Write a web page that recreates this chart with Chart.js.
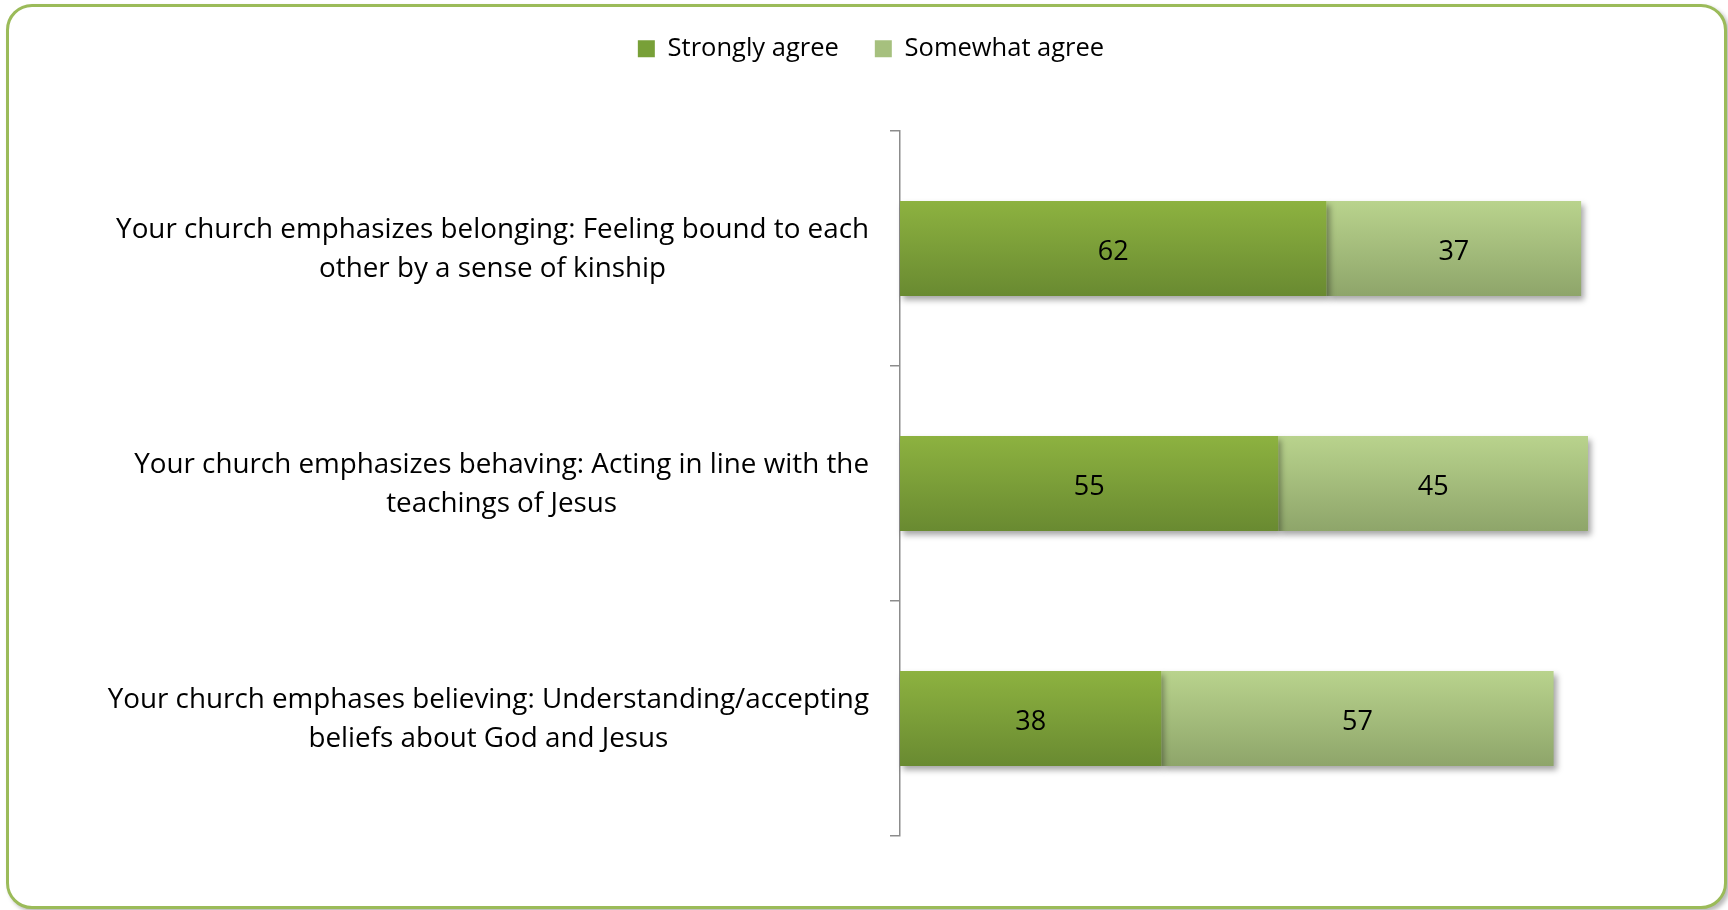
<!DOCTYPE html>
<html>
<head>
<meta charset="utf-8">
<script src="https://cdn.jsdelivr.net/npm/chart.js@4.4.1/dist/chart.umd.min.js"></script>
<style>
  html, body { margin: 0; padding: 0; background: #ffffff; width: 1728px; height: 910px; overflow: hidden; }
  #frame { position: absolute; left: 6px; top: 4px; width: 1721px; height: 905px; box-sizing: border-box;
           border: 3px solid #9bbb59; border-radius: 26px; box-shadow: 3px 3px 4px rgba(0,0,0,0.28); background: #fff; }
  #c { position: absolute; left: 0; top: 0; }
</style>
</head>
<body>
<div id="frame"></div>
<canvas id="c" width="1728" height="910"></canvas>
<script>
// ---- data ----
const categories = [
  ["Your church emphasizes belonging: Feeling bound to each", "other by a sense of kinship"],
  ["Your church emphasizes behaving: Acting in line with the", "teachings of Jesus"],
  ["Your church emphases believing: Understanding/accepting", "beliefs about God and Jesus"]
];
const seriesNames = ["Strongly agree", "Somewhat agree"];
const stronglyAgree = [62, 55, 38];
const somewhatAgree = [37, 45, 57];

// ---- styling ----
const FONT = "'Open Sans'";
const FS = 27.8;
const VFS = 27;
const BAR_PCT = 0.404;

function vGrad(top, bottom) {
  return (ctx) => {
    const ch = ctx.chart;
    const ys = ch.scales && ch.scales.y;
    if (!ch.chartArea || !ys || ctx.dataIndex === undefined) return top;
    const yc = ys.getPixelForValue(ctx.dataIndex);
    const h = (ys.height / categories.length) * BAR_PCT;
    const g = ch.ctx.createLinearGradient(0, yc - h / 2, 0, yc + h / 2);
    g.addColorStop(0, top);
    g.addColorStop(1, bottom);
    return g;
  };
}

const legendHeightPlugin = {
  id: 'legendHeight',
  beforeLayout(chart) {
    const lg = chart.legend;
    if (lg && !lg._wrapped) {
      const f = lg.fit.bind(lg);
      lg.fit = function () { f(); this.height = 131; };
      lg._wrapped = true;
    }
  }
};

const shadowPlugin = {
  id: 'barShadow',
  beforeDatasetsDraw(chart) {
    const c = chart.ctx;
    c.save();
    c.shadowColor = 'rgba(0,0,0,0.35)';
    c.shadowBlur = 6;
    c.shadowOffsetX = 3;
    c.shadowOffsetY = 4;
  },
  afterDatasetsDraw(chart) {
    chart.ctx.restore();
  }
};

const labelsPlugin = {
  id: 'catLabels',
  afterDraw(chart) {
    const c = chart.ctx;
    const ys = chart.scales.y;
    c.save();
    c.font = FS + "px " + FONT;
    c.fillStyle = "#000";
    c.textBaseline = "middle";
    c.textAlign = "center";
    const lineH = 39;
    const rightEdge = ys.right - 31;
    categories.forEach((lines, i) => {
      const yc = ys.getPixelForValue(i) + 1;
      const w = Math.max(...lines.map(l => c.measureText(l).width));
      const cx = rightEdge - w / 2;
      const y0 = yc - (lines.length - 1) * lineH / 2;
      lines.forEach((l, k) => c.fillText(l, cx, y0 + k * lineH));
    });
    // value labels
    c.font = VFS + "px " + FONT;
    chart.data.datasets.forEach((ds, di) => {
      const meta = chart.getDatasetMeta(di);
      meta.data.forEach((el, j) => {
        const x = (el.x + el.base) / 2;
        c.fillText(String(ds.data[j]), x, el.y + 4);
      });
    });
    c.restore();
  }
};

new Chart(document.getElementById('c'), {
  type: 'bar',
  data: {
    labels: categories,
    datasets: [
      { label: seriesNames[0], data: stronglyAgree, backgroundColor: vGrad('#8db240', '#698a31'),
        legendColor: '#78a038', clip: false },
      { label: seriesNames[1], data: somewhatAgree, backgroundColor: vGrad('#b9d38d', '#8ea56a'),
        legendColor: '#a6c07e', clip: false }
    ]
  },
  options: {
    indexAxis: 'y',
    responsive: false,
    animation: false,
    devicePixelRatio: 1,
    layout: { padding: { top: 0, left: 154, right: 140, bottom: 74 } },
    datasets: { bar: { categoryPercentage: 1, barPercentage: BAR_PCT } },
    scales: {
      x: { stacked: true, display: false, min: 0, max: 100 },
      y: {
        stacked: true,
        afterFit: (s) => { s.width = 746; },
        ticks: { display: false },
        grid: { drawOnChartArea: false, drawTicks: true, tickLength: 10, color: '#8c8c8c', lineWidth: 1.5, offset: true },
        border: { display: true, color: '#8c8c8c', width: 1.5 }
      }
    },
    plugins: {
      tooltip: { enabled: false },
      legend: {
        position: 'top',
        labels: {
          font: { family: "'Open Sans'", size: 25.5 },
          color: '#000',
          boxWidth: 17,
          boxHeight: 17,
          padding: 36,
          generateLabels: (chart) => chart.data.datasets.map((ds, i) => ({
            text: ds.label, fillStyle: ds.legendColor, strokeStyle: ds.legendColor,
            lineWidth: 0, hidden: false, datasetIndex: i, fontColor: '#000'
          }))
        }
      }
    }
  },
  plugins: [legendHeightPlugin, shadowPlugin, labelsPlugin]
});
</script>
</body>
</html>
